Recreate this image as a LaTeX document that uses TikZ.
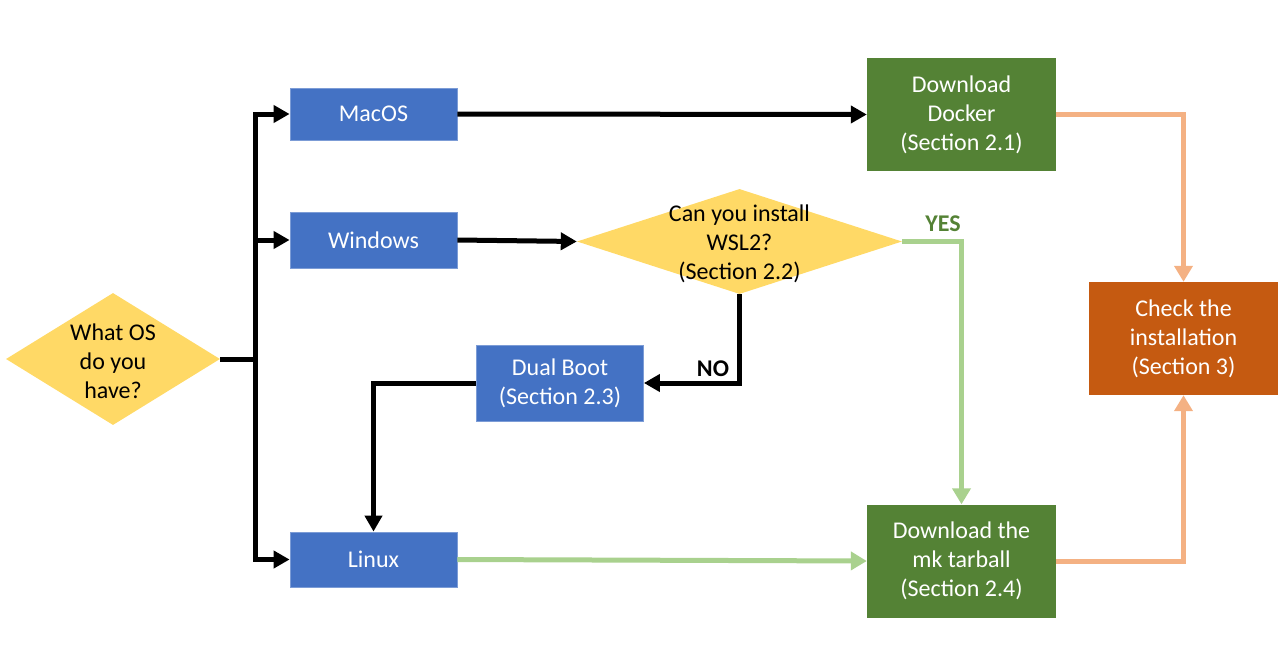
\documentclass[tikz,border=0pt]{standalone}
\usepackage{fontspec}
\setmainfont{Carlito}
\usetikzlibrary{shapes.geometric,arrows.meta}
\definecolor{boxblue}{HTML}{4472C4}
\definecolor{boxgreen}{HTML}{548235}
\definecolor{boxorange}{HTML}{C55A11}
\definecolor{diayellow}{HTML}{FFD966}
\definecolor{lightgreen}{HTML}{A9D18E}
\definecolor{lightorange}{HTML}{F4B183}
\begin{document}
\begin{tikzpicture}[x=1pt,y=-1pt,
  txt/.style={font=\fontsize{24}{29}\selectfont, align=center, inner sep=0pt},
  bluebox/.style={txt, rectangle, fill=boxblue, text=white, draw=boxblue!70!white, line width=0.8pt, minimum width=167pt, minimum height=#1},
  greenbox/.style={txt, rectangle, fill=boxgreen, text=white, minimum width=189pt, minimum height=113pt},
  orangebox/.style={txt, rectangle, fill=boxorange, text=white, minimum width=189pt, minimum height=113pt},
  dia/.style={diamond, fill=diayellow, inner sep=0pt},
  blk/.style={line width=5pt, draw=black, -{Triangle[length=16pt,width=17pt]}},
  blkline/.style={line width=5pt, draw=black},
  grn/.style={line width=5pt, draw=lightgreen, -{Triangle[length=16pt,width=18pt]}},
  org/.style={line width=5pt, draw=lightorange, -{Triangle[length=16pt,width=18pt]}},
  lbl/.style={font=\fontsize{24}{29}\selectfont\bfseries, inner sep=0pt}
]
\useasboundingbox (0,0) rectangle (1280,656);

% decisions
\node[dia, minimum width=214pt, minimum height=132pt] (os) at (113,359) {};
\node[txt] (ostxt) at (113,361) {What OS\\do you\\have?};
\node[dia, minimum width=325pt, minimum height=105pt] (wsl) at (739.5,241.5) {};
\node[txt] (wsltxt) at (739.5,244) {Can you install\\WSL2?\\(Section 2.2)};

% OS boxes
\node[bluebox=52pt] (mac) at (373.5,114) {MacOS};
\node[bluebox=56pt] (win) at (373.5,240) {Windows};
\node[bluebox=55pt] (lin) at (373.5,559.5) {Linux};
\node[bluebox=76pt] (dual) at (560,383) {Dual Boot\\(Section 2.3)};

% actions
\node[greenbox] (docker) at (961.5,114.5) {Download\\Docker\\(Section 2.1)};
\node[greenbox] (tar) at (961.5,561) {Download the\\mk tarball\\(Section 2.4)};
\node[orangebox] (check) at (1183.5,338.5) {Check the\\installation\\(Section 3)};

% trunk
\coordinate (trunk) at (255,359);
\draw[blkline] (os.east) -- (trunk);
\draw[blk] (trunk) |- (mac.west);
\draw[blk] (trunk) |- (win.west);
\draw[blk] (trunk) |- (lin.west);

% connectors
\draw[blk] (mac.east) -- (docker.west);
\draw[blk] (win.east) -- (wsl.west);
\draw[blk] (wsl.south) |- (dual.east);
\node[lbl] (no) at (713,369) {NO};
\draw[blk] (dual.west) -| (lin.north);
\draw[grn] (wsl.east) -| (tar.north);
\node[lbl, text=boxgreen] (yes) at (943,224) {YES};
\draw[grn] (lin.east) -- (tar.west);
\draw[org] (docker.east) -| (check.north);
\draw[org] (tar.east) -| (check.south);
\end{tikzpicture}
\end{document}
